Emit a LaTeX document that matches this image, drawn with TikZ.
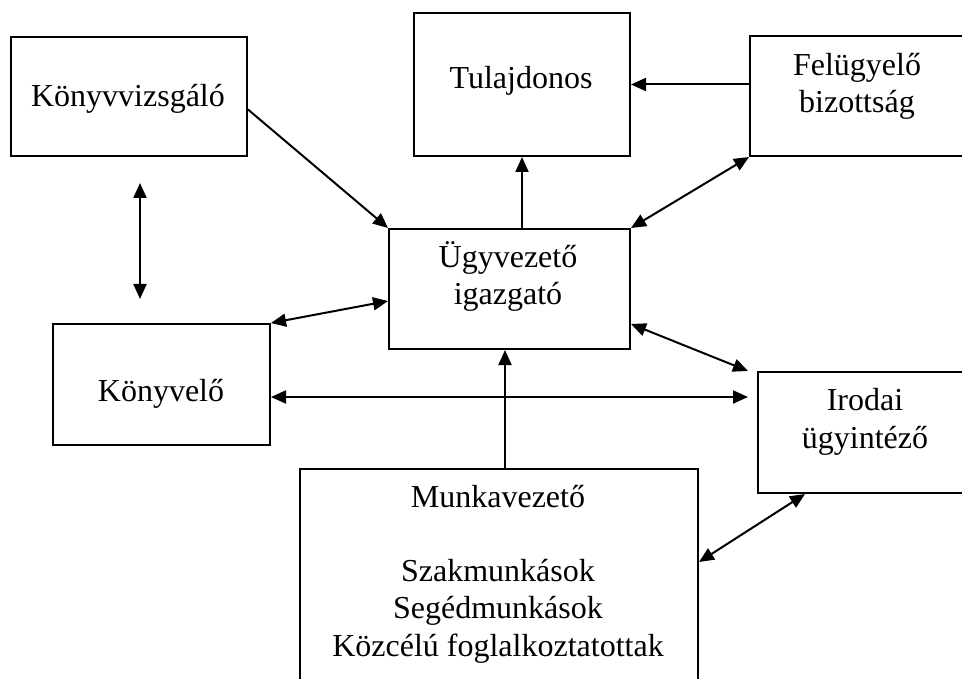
\documentclass[tikz,border=0pt]{standalone}
\usepackage{fontspec}
\setmainfont{Liberation Serif}
\usepackage{tikz}
\usetikzlibrary{arrows.meta,positioning}
\tikzset{box/.style={rectangle,draw,line width=2pt,inner sep=0pt,anchor=north west},
  txt/.style={align=center,inner sep=0pt,anchor=base,font=\fontsize{32}{37.5}\selectfont}}

\begin{document}
\begin{tikzpicture}[x=1pt,y=-1pt,line width=2pt,>={Triangle[length=15pt,width=13pt]}]
    \clip (0,0) rectangle (962,679);
    \node[box,minimum width=236,minimum height=119] (kvizs) at (10,36) {};
    \node[box,minimum width=216,minimum height=143] (tul) at (413,12) {};
    \node[box,minimum width=216,minimum height=120] (fel) at (749,35) {};
    \node[box,minimum width=241,minimum height=120] (ugy) at (388,228) {};
    \node[box,minimum width=217,minimum height=121] (konyv) at (52,323) {};
    \node[box,minimum width=216,minimum height=121] (iroda) at (757,371) {};
    \node[box,minimum width=398,minimum height=240] (munka) at (299,468) {};

    \node[txt] (kvizs-t) at (128,107) {Könyvvizsgáló};
    \node[txt] (tul-t) at (521,89) {Tulajdonos};
    \node[txt] (fel-t) at (857,113) {Felügyelő\\bizottság};
    \node[txt] (ugy-t) at (508,305) {Ügyvezető\\igazgató};
    \node[txt] (konyv-t) at (161,401) {Könyvelő};
    \node[txt] (iroda-t) at (865,448) {Irodai\\ügyintéző};
    \node[txt] (munka-t) at (498,656) {Munkavezető\\[36pt]Szakmunkások\\Segédmunkások\\Közcélú foglalkoztatottak};

    \draw [->] ([yshift=-13pt]kvizs.east) to (ugy.north west);
    \draw [<->] ([xshift=11pt,yshift=-26pt]kvizs.south) to ([xshift=-21.5pt,yshift=24pt]konyv.north);
    \draw [<->] (konyv.north east) to ([yshift=-12pt]ugy.west);
    \draw [->] (tul.south |- ugy.north) to (tul.south);
    \draw [->] (tul.east -| fel.west) to (tul.east);
    \draw [<->] (fel.south west) to (ugy.north east);
    \draw [<->] ([yshift=-35pt]ugy.east) to ([xshift=-9pt]iroda.north west);
    \draw [<->,shorten >=9pt] ([yshift=-12.5pt]konyv.east) coordinate (k1) to (k1 -| iroda.west);
    \draw [->] ([xshift=6pt]munka.north) coordinate (m1) to (m1 |- ugy.south);
    \draw [<->] ([xshift=48pt]iroda.south west) to ([yshift=-94pt]munka.north east);
\end{tikzpicture}
\end{document}
